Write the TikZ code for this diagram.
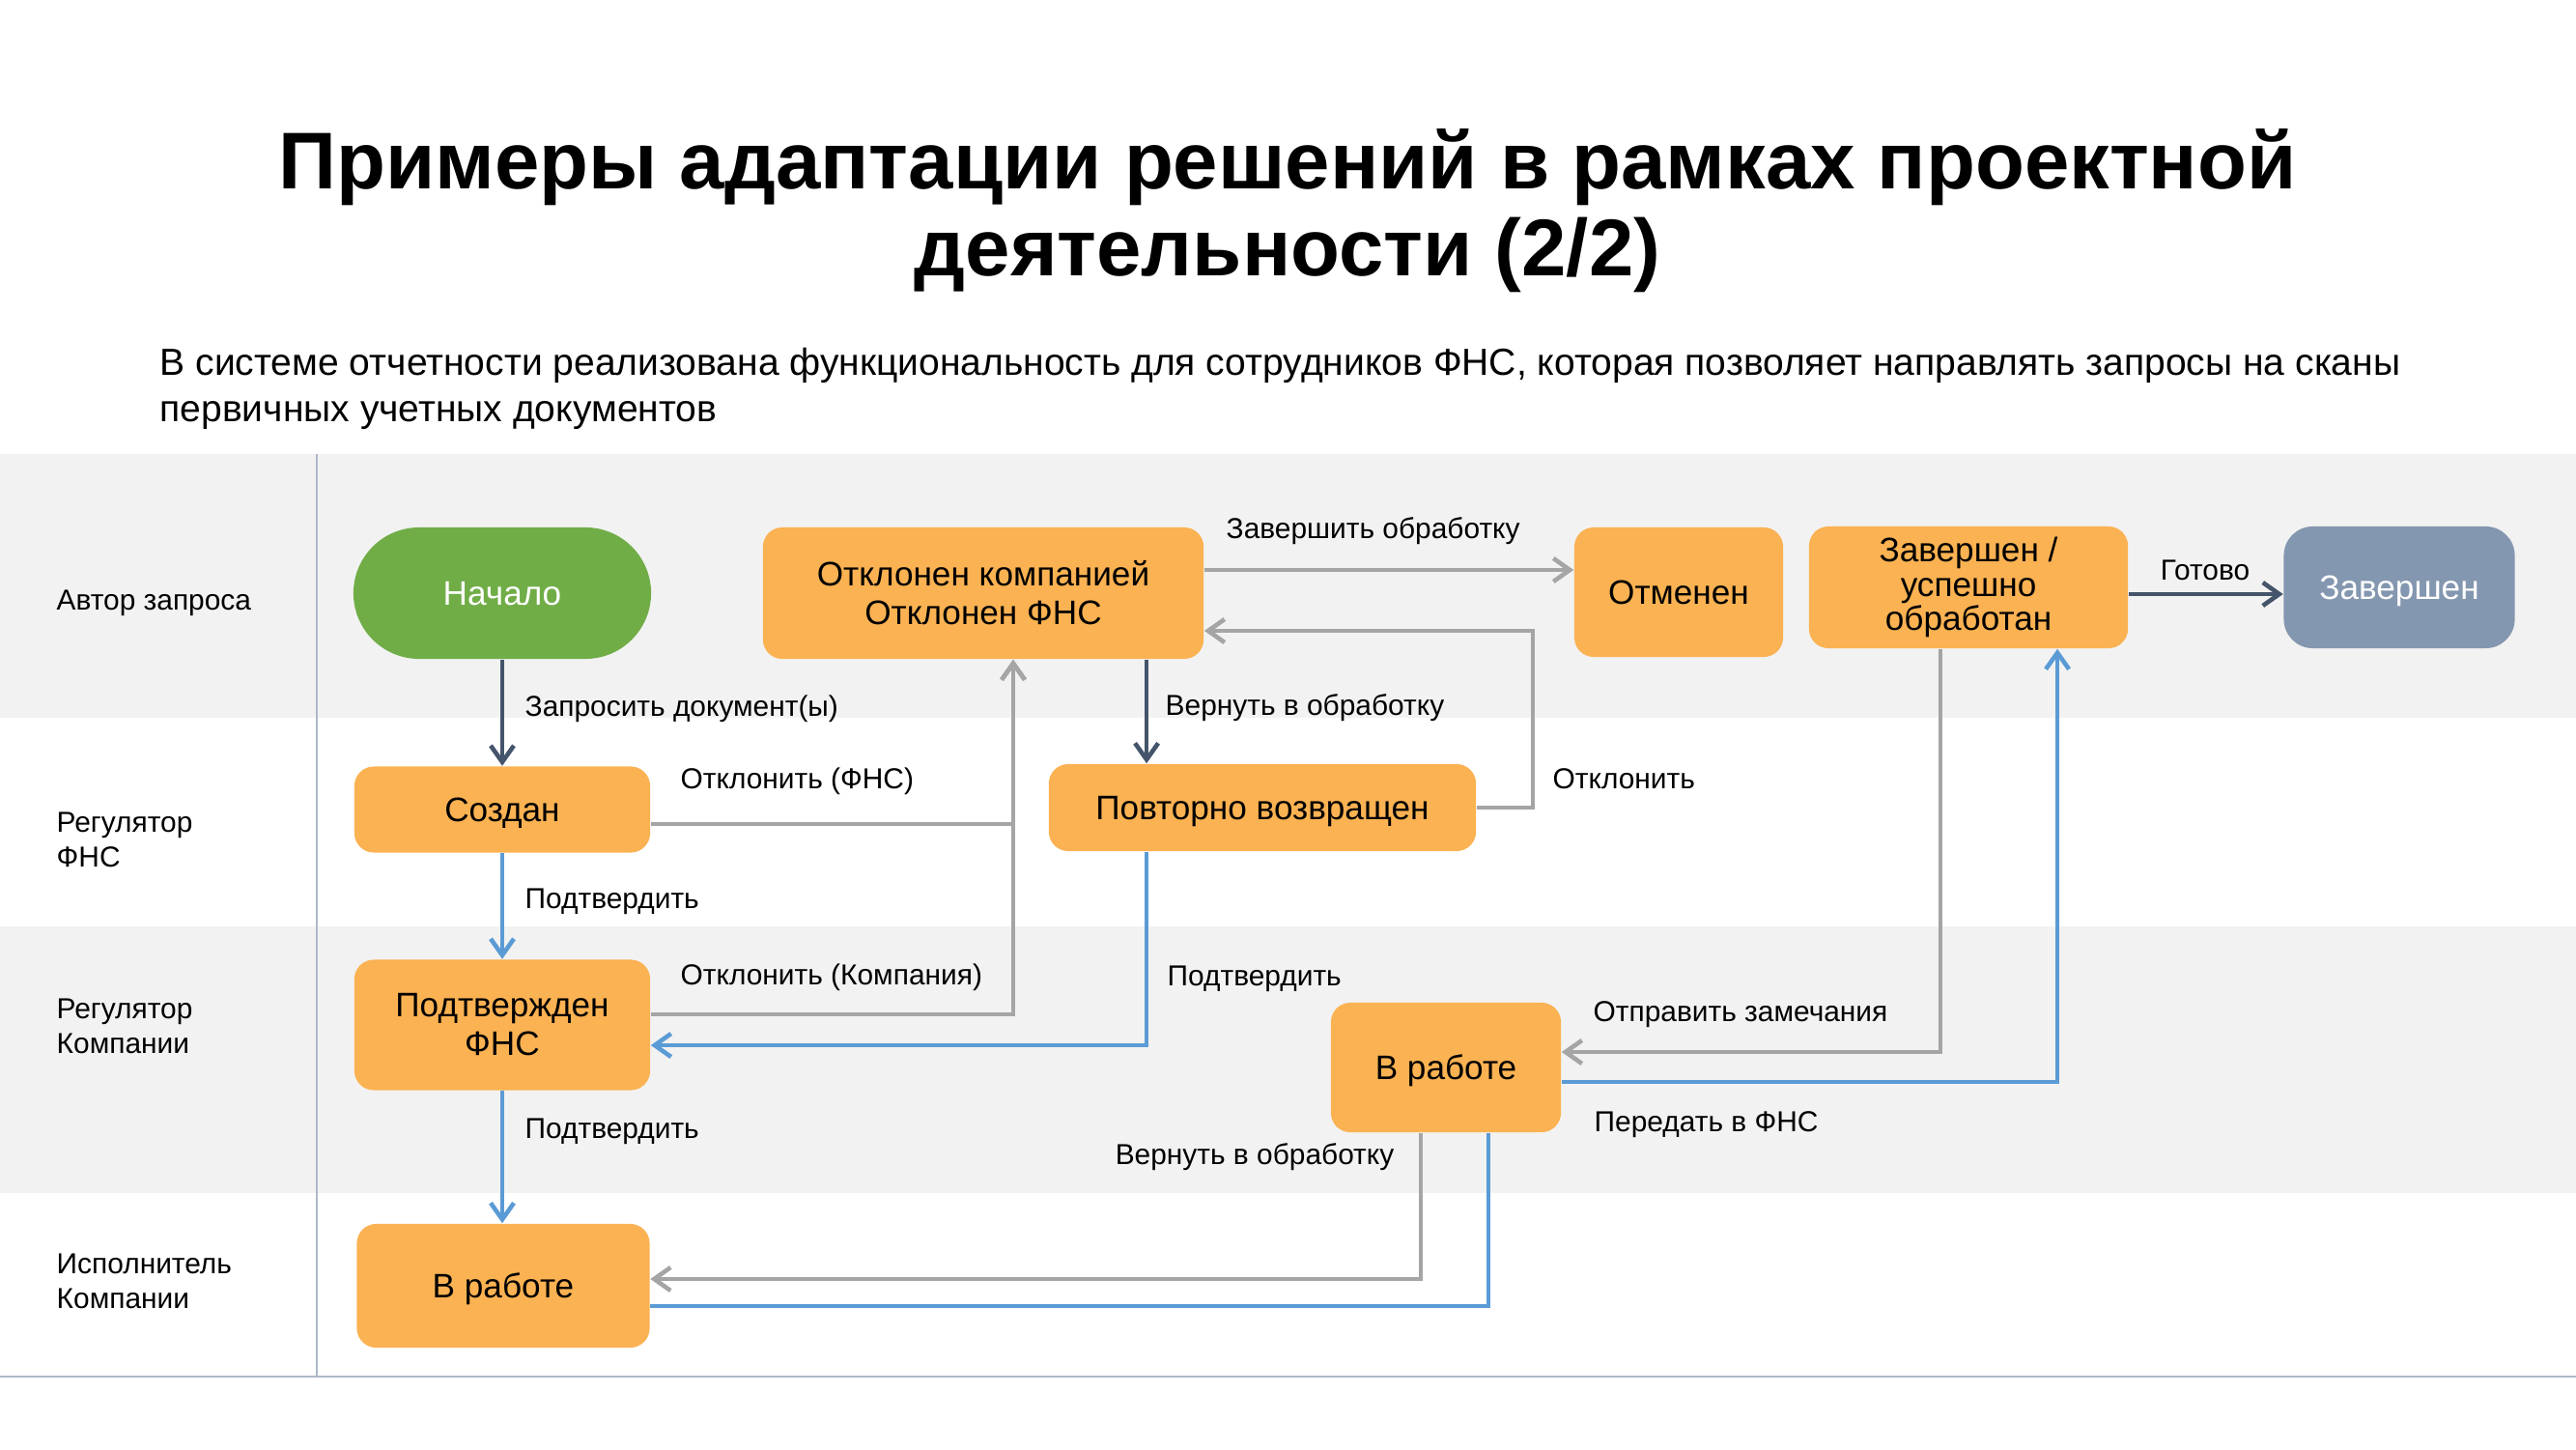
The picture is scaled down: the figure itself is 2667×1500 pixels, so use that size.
\documentclass[tikz,border=0pt]{standalone}
\usepackage{fontspec}
\setmainfont{Liberation Sans}
\usetikzlibrary{arrows.meta}

\definecolor{polosa}{HTML}{F2F2F2}
\definecolor{razdel}{HTML}{ADB9CA}
\definecolor{oranzh}{HTML}{FBB252}
\definecolor{zelen}{HTML}{70AD47}
\definecolor{sinseryj}{HTML}{8497B0}
\definecolor{temn}{HTML}{44546A}
\definecolor{ser}{HTML}{A5A5A5}
\definecolor{gol}{HTML}{5B9BD5}

\begin{document}
\begin{tikzpicture}[x=0.01cm,y=-0.01cm]
	
	% Стили
	\tikzset{
		status/.style={
			rectangle,
			fill=oranzh,
			rounded corners=0.2cm,
			align=center,
			font=\fontsize{10}{11.4}\selectfont,
			inner sep=0pt
		},
		odna/.style={
			text height=0.905em,
			text depth=0.212em
		},
		lane/.style={
			anchor=west,
			align=left,
			inner sep=0pt,
			font=\fontsize{8.5}{10.2}\selectfont
		},
		podpis/.style={
			inner sep=0pt,
			odna,
			font=\fontsize{8.5}{10.2}\selectfont
		},
		perehod/.style={
			line width=1.3pt,
			-{Straight Barb[length=1.7mm,width=2.4mm]}
		}
	}
	
	\useasboundingbox (0,0) rectangle (2667,1500);
	
	% Полосы
	\fill[polosa] (0,470) rectangle (2667,743);
	\fill[polosa] (0,959) rectangle (2667,1235);
	\draw[razdel] (328,470) -- (328,1425);
	\draw[razdel] (0,1425) -- (2667,1425);
	
	% Заголовок
	\node[align=center, font=\fontsize{23.7}{25.6}\selectfont\bfseries] (T) at (1333,218)
		{Примеры адаптации решений в рамках проектной\\деятельности (2/2)};
	\node[anchor=west, align=left, inner sep=0pt, font=\fontsize{11.1}{13.7}\selectfont] (P) at (165,402)
		{В системе отчетности реализована функциональность для сотрудников ФНС, которая позволяет направлять запросы на сканы\\первичных учетных документов};
	
	% Роли
	\node[lane, odna] (L1) at (58,619) {Автор запроса};
	\node[lane] (L2) at (58,869) {Регулятор\\ФНС};
	\node[lane] (L3) at (58,1062) {Регулятор\\Компании};
	\node[lane] (L4) at (58,1326) {Исполнитель\\Компании};
	
	% Узлы
	\node[status, odna, fill=zelen, text=white, minimum width=3.08cm, minimum height=1.36cm, rounded corners=0.68cm] (N) at (520,614) {Начало};
	\node[status, minimum width=4.56cm, minimum height=1.36cm] (O) at (1018,614) {Отклонен компанией\\Отклонен ФНС};
	\node[status, odna, minimum width=2.16cm, minimum height=1.34cm] (Om) at (1738,613) {Отменен};
	\node[status, minimum width=3.30cm, minimum height=1.26cm, font=\fontsize{10}{10}\selectfont] (Z) at (2038,608) {Завершен /\\успешно\\обработан};
	\node[status, odna, fill=sinseryj, text=white, minimum width=2.39cm, minimum height=1.26cm, rounded corners=0.3cm] (ZF) at (2484,608) {Завершен};
	\node[status, odna, minimum width=3.06cm, minimum height=0.89cm] (S) at (520,838) {Создан};
	\node[status, odna, minimum width=4.42cm, minimum height=0.90cm] (PV) at (1307,836) {Повторно возвращен};
	\node[status, minimum width=3.06cm, minimum height=1.35cm] (PF) at (520,1061) {Подтвержден\\ФНС};
	\node[status, odna, minimum width=2.38cm, minimum height=1.34cm] (R3) at (1497,1105) {В работе};
	\node[status, odna, minimum width=3.03cm, minimum height=1.28cm] (R4) at (521,1331) {В работе};
	
	% Линии
	\draw[perehod, temn] (N) -- (S);
	\draw[perehod, gol] (S) -- (PF);
	\draw[perehod, gol] (PF.south) -- (PF.south |- R4.north);
	\draw[perehod, ser] ([yshift=-0.15cm]S.east) -| ([xshift=0.31cm]O.south);
	\draw[perehod, ser] ([yshift=0.11cm]PF.east) -| ([xshift=0.31cm]O.south);
	\draw[perehod, ser] ([yshift=0.24cm]O.east) coordinate (f1) -- (f1 -| Om.west);
	\draw[perehod, ser] (PV.east) -- ++(0.58cm,0) |- ([yshift=-0.39cm]O.east);
	\draw[perehod, temn] ([xshift=1.69cm]O.south) coordinate (h1) -- (h1 |- PV.north);
	\draw[perehod, gol] (h1 |- PV.south) |- ([yshift=-0.21cm]PF.east);
	\draw[perehod, ser] ([xshift=-0.29cm]Z.south) |- ([yshift=0.16cm]R3.east);
	\draw[perehod, gol] ([yshift=-0.15cm]R3.east) -| ([xshift=0.92cm]Z.south);
	\draw[perehod, ser] ([xshift=-0.26cm]R3.south) |- ([yshift=0.07cm]R4.east);
	\draw[gol, line width=1.3pt] ([yshift=-0.21cm]R4.east) -| ([xshift=0.44cm]R3.south);
	\draw[perehod, temn] ([yshift=-0.07cm]Z.east) coordinate (n1) -- (n1 -| ZF.west);
	
	% Подписи
	\node[podpis, anchor=west] (e1) at (543,729) {Запросить документ(ы)};
	\node[podpis, anchor=west] (e2) at (543,928) {Подтвердить};
	\node[podpis, anchor=west] (e3) at (543,1166) {Подтвердить};
	\node[podpis, anchor=west] (e4) at (704,804) {Отклонить (ФНС)};
	\node[podpis, anchor=west] (e5) at (704,1007) {Отклонить (Компания)};
	\node[podpis, anchor=west] (e6) at (1269,545) {Завершить обработку};
	\node[podpis, anchor=west] (e7) at (1607,804) {Отклонить};
	\node[podpis, anchor=west] (e8) at (1206,728) {Вернуть в обработку};
	\node[podpis, anchor=west] (e9) at (1208,1008) {Подтвердить};
	\node[podpis, anchor=west] (e10) at (1649,1045) {Отправить замечания};
	\node[podpis, anchor=west] (e11) at (1650,1159) {Передать в ФНС};
	\node[podpis, anchor=east] (e12) at (1444,1193) {Вернуть в обработку};
	\node[podpis] (e13) at (2283,588) {Готово};
	
\end{tikzpicture}
\end{document}
